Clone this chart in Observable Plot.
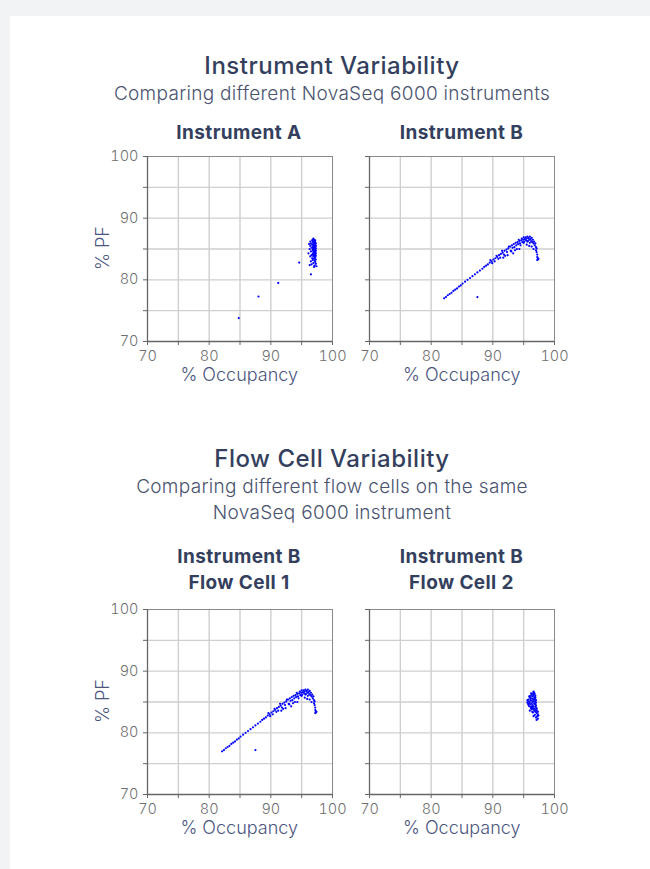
<!DOCTYPE html>
<html><head><meta charset="utf-8">
<script src="https://cdn.jsdelivr.net/npm/d3@7"></script>
<script src="https://cdn.jsdelivr.net/npm/@observablehq/plot@0.6"></script>
<style>
html,body{margin:0;padding:0;}
body{background:#f2f3f5;width:650px;height:869px;overflow:hidden;position:relative;font-family:Inter,Roboto,sans-serif;}
#card{position:absolute;left:10px;top:16px;width:660px;height:900px;background:#fff;}
.txt{position:absolute;white-space:nowrap;text-align:center;transform:translate(-50%,-50%);}
.title{font-size:24px;font-weight:500;color:#343f5e;letter-spacing:0.5px;}
.sub{font-size:19px;font-weight:300;color:#4a5370;letter-spacing:0.3px;}
.ptitle{font-size:19px;font-weight:700;color:#343f5e;line-height:26px;letter-spacing:0.4px;}
.axl{font-size:18px;font-weight:300;color:#4a5580;}
.panel{position:absolute;}
</style></head>
<body>
<div id="card"></div>
<div id="root"></div>
<script>
// ---- data: [occupancy %, PF %] ----
const instrumentA = [
  [84.8,73.8],[88.0,77.3],[91.2,79.5],[94.6,82.8],[96.5,80.9],
  [96.9,86.7],[97.0,86.5],[96.7,86.4],[97.1,86.3],[96.4,86.2],[96.8,86.2],[97.2,86.1],[97.0,86.0],
  [96.5,85.9],[96.9,85.9],[97.3,85.9],[96.2,85.8],[97.1,85.8],[96.7,85.7],[97.2,85.6],[97.0,85.6],
  [96.9,85.5],[97.3,85.5],[96.4,85.5],[97.1,85.4],[96.8,85.3],[97.2,85.3],[97.0,85.2],[96.6,85.2],
  [97.3,85.1],[97.1,85.0],[96.9,85.0],[96.3,85.0],[97.2,84.9],[97.0,84.8],[96.8,84.8],[97.3,84.7],
  [97.1,84.6],[96.5,84.6],[97.2,84.5],[96.9,84.5],[97.0,84.4],[97.3,84.3],[96.1,84.3],[97.1,84.2],
  [96.8,84.2],[97.2,84.1],[96.6,84.0],[97.0,84.0],[97.3,83.9],[96.9,83.8],[97.1,83.7],[96.4,83.8],
  [97.2,83.6],[96.7,83.5],[97.0,83.4],[97.3,83.3],[96.8,83.2],[97.1,83.1],[96.5,83.0],[97.2,82.9],
  [96.9,82.7],[97.3,82.6],[96.6,82.5],[97.1,82.3],[97.4,82.2],[96.3,82.4],[97.0,82.1],
  [96.8,86.5],[97.2,86.4],[96.9,86.1],[97.1,85.6],[96.8,85.0],[97.0,84.6],[97.2,84.3],[96.9,84.0]
];
const instrumentB = [
  [87.5,77.2],
  [82.1,77.0],[82.4,77.2],[82.7,77.5],[83.0,77.7],[83.3,77.9],[83.6,78.2],[83.9,78.4],[84.2,78.6],
  [84.5,78.9],[84.8,79.1],[85.1,79.4],[85.5,79.7],[85.9,80.0],[86.3,80.3],[86.7,80.6],[87.1,80.9],
  [87.5,81.2],[87.9,81.5],[88.3,81.8],[88.6,82.1],[88.9,82.3],[89.2,82.5],[89.5,82.8],[89.8,83.0],
  [90.1,83.3],[90.4,83.5],[90.7,83.7],[91.0,84.0],[91.3,84.2],[91.6,84.4],[91.9,84.7],[92.2,84.9],
  [92.5,85.1],[92.8,85.4],[93.1,85.6],[93.4,85.8],[93.7,86.0],[94.0,86.1],[94.3,86.3],[94.6,86.4],
  [94.9,86.5],[95.2,86.6],[95.5,86.7],[95.8,86.8],
  [89.6,83.2],[89.9,82.7],[90.3,83.0],[90.6,83.9],[90.9,83.4],[91.2,83.6],[91.5,84.7],[91.8,84.1],
  [92.0,83.9],[92.3,84.5],[92.6,85.4],[92.9,84.7],[93.2,85.2],[93.5,85.3],[93.6,84.8],[93.8,85.6],
  [94.1,85.8],[94.2,86.5],[94.4,85.9],[94.7,86.7],[94.8,86.1],[95.0,86.9],[95.1,86.2],[95.3,86.9],
  [95.4,86.4],[95.6,87.0],[95.7,86.3],[95.9,86.5],[96.0,87.0],[96.1,86.6],[96.2,86.3],[96.3,86.8],
  [96.4,86.1],[96.5,86.5],[96.6,85.9],[96.7,86.2],[96.8,85.6],[96.9,85.9],[97.0,85.3],[97.0,84.8],
  [97.1,85.1],[97.1,84.5],[97.2,84.1],[97.2,83.7],[97.3,83.5],[97.3,83.3],[97.4,83.4],[97.2,83.2],
  [91.7,83.6],[92.4,84.0],[93.0,84.6],[93.3,84.3],[93.9,85.0],[94.3,85.0],[95.5,85.7],[95.9,85.5],
  [96.3,85.4],[96.6,85.0],[95.0,86.0],[95.6,86.2],[96.0,86.0],[94.5,85.6]
];
const flowCell1 = instrumentB; // same instrument B run shown again
const flowCell2 = [
  [96.6,86.7],[96.7,86.5],[96.5,86.4],[96.8,86.3],[96.3,86.2],[96.6,86.1],[96.9,86.0],[96.1,86.0],
  [96.4,85.9],[96.7,85.8],[96.0,85.7],[96.9,85.7],[96.2,85.6],[96.5,85.5],[96.8,85.5],[95.8,85.4],
  [96.1,85.3],[96.6,85.3],[97.0,85.3],[96.3,85.2],[95.7,85.1],[96.8,85.1],[96.0,85.0],[96.5,85.0],
  [97.0,84.9],[95.9,84.8],[96.3,84.8],[96.7,84.7],[96.1,84.6],[96.9,84.6],[96.4,84.5],[95.8,84.5],
  [97.0,84.4],[96.6,84.3],[96.2,84.2],[96.9,84.2],[97.1,84.0],[96.5,84.0],[96.8,83.9],[96.3,83.8],
  [97.0,83.7],[96.7,83.6],[97.2,83.5],[96.9,83.4],[96.5,83.3],[97.1,83.2],[97.3,83.0],[96.8,82.9],
  [97.2,82.7],[97.0,82.5],[97.3,82.3],[97.1,82.1],
  [95.6,85.3],[95.6,84.9],[95.9,85.9],[96.2,86.4],[95.9,84.3],[96.2,84.0],[96.0,83.6],[96.4,83.4],
  [96.6,83.9],[97.1,83.8],[97.3,83.4],[96.6,82.7],[97.4,82.8],[95.7,84.7],[96.4,84.2],[96.9,84.9]
];
const axisTicks = [70,75,80,85,90,95,100];
const gridLines = [75,80,85,90,95];
const tickLabels = [70,80,90,100];
const sections = [
  {title:"Instrument Variability", subtitle:["Comparing different NovaSeq 6000 instruments"]},
  {title:"Flow Cell Variability", subtitle:["Comparing different flow cells on the same","NovaSeq 6000 instrument"]}
];
const panelTitles = [["Instrument A"],["Instrument B"],["Instrument B","Flow Cell 1"],["Instrument B","Flow Cell 2"]];
const panelData = [instrumentA, instrumentB, flowCell1, flowCell2];
const xLabel = "% Occupancy", yLabel = "% PF";

// ---- layout ----
const root = document.getElementById("root");
function addText(cls, text, cx, cy, rotate){
  const d = document.createElement("div");
  d.className = "txt " + cls;
  d.textContent = text;
  d.style.left = cx + "px"; d.style.top = cy + "px";
  if (rotate) d.style.transform = "translate(-50%,-50%) rotate(-90deg)";
  root.appendChild(d);
}
function panel(data, showY){
  const fmt = d => (showY && tickLabels.includes(d)) ? String(d) : "";
  return Plot.plot({
    width: 250, height: 225,
    marginLeft: 50, marginRight: 15, marginTop: 10, marginBottom: 30,
    x: {domain: [70,100]}, y: {domain: [70,100]},
    style: {fontFamily: "Inter, Roboto, sans-serif", fontSize: "14px", background: "transparent", overflow: "visible"},
    marks: [
      Plot.gridX(gridLines, {stroke: "#cfcfcf", strokeOpacity: 1, strokeWidth: 1.4}),
      Plot.gridY(gridLines, {stroke: "#cfcfcf", strokeOpacity: 1, strokeWidth: 1.4}),
      Plot.ruleY([100], {stroke: "#8a8a8a", strokeWidth: 1}),
      Plot.ruleX([100], {stroke: "#8a8a8a", strokeWidth: 1}),
      Plot.axisX(axisTicks, {tickSize: 4, stroke: "#666", color: "#707070", fontWeight: 300, fontSize: 14.5,
        tickFormat: d => tickLabels.includes(d) ? String(d) : "", label: null}),
      Plot.axisY(axisTicks, {tickSize: 4, stroke: "#666", color: "#707070", fontWeight: 300, fontSize: 14.5,
        tickFormat: fmt, label: null}),
      Plot.ruleX([70], {stroke: "#666", strokeWidth: 1.3}),
      Plot.ruleY([70], {stroke: "#666", strokeWidth: 1.3}),
      Plot.dot(data, {x: d => d[0], y: d => d[1], r: 1.1, fill: "#0000ff", stroke: null})
    ]
  });
}
const panelLeft = [96.7, 319.3, 96.7, 319.3];
const panelTop = [145.7, 145.7, 599.2, 599.2];
panelData.forEach((data, i) => {
  const div = document.createElement("div");
  div.className = "panel";
  div.style.left = panelLeft[i] + "px"; div.style.top = panelTop[i] + "px";
  div.appendChild(panel(data, i % 2 === 0));
  root.appendChild(div);
  const cx = panelLeft[i] + 50 + 92.5;
  addText("axl", xLabel, cx, panelTop[i] + 228);
  if (i % 2 === 0) addText("axl", yLabel, 102, panelTop[i] + 102, true);
});
// section titles
addText("title", sections[0].title, 332, 65);
addText("sub", sections[0].subtitle[0], 332, 93);
addText("title", sections[1].title, 332, 458);
addText("sub", sections[1].subtitle[0], 332, 486);
addText("sub", sections[1].subtitle[1], 332, 512);
// panel titles
const ptCenters = [[239, [133]], [461.5, [133]], [239, [557, 583]], [461.5, [557, 583]]];
panelTitles.forEach((lines, i) => {
  lines.forEach((t, j) => addText("ptitle", t, ptCenters[i][0], ptCenters[i][1][j]));
});
</script>
</body></html>
